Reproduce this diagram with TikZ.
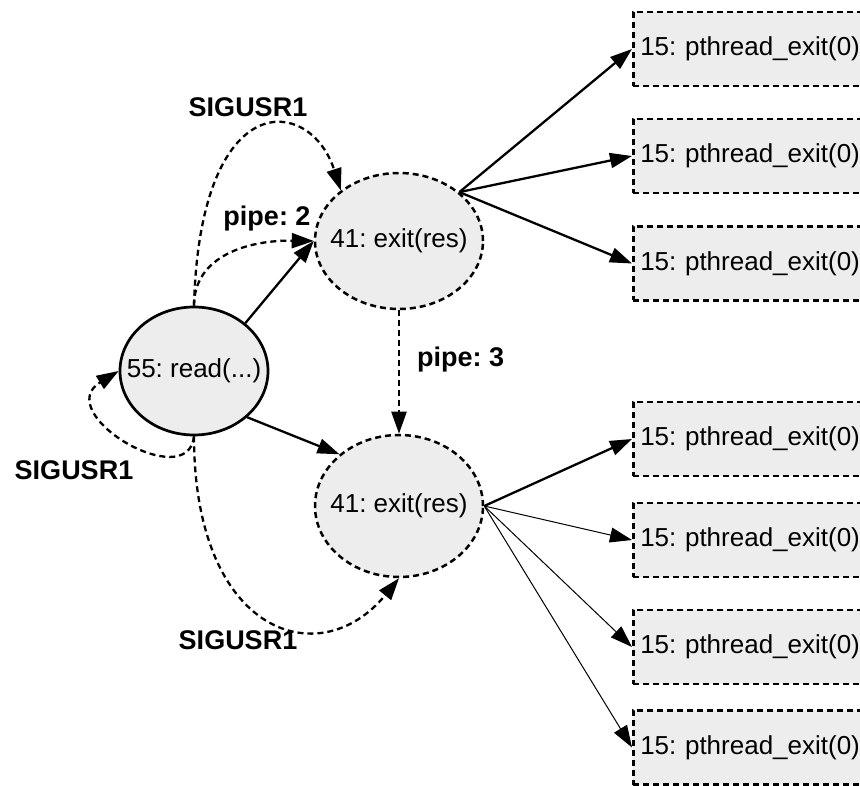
\documentclass[tikz,border=0pt]{standalone}
\usepackage{fontspec}
\setmainfont{Liberation Sans}
\frenchspacing
\usetikzlibrary{shapes.geometric,arrows.meta}
\definecolor{nodefill}{HTML}{EDEDED}
\newcommand{\zw}[1]{\makebox[0pt]{#1}}
\begin{document}
\begin{tikzpicture}[x=1pt,y=1pt,
  basefont/.style={font=\fontsize{26}{30}\selectfont},
  lbl/.style={font=\fontsize{27}{31}\selectfont\bfseries, anchor=base, inner sep=0pt},
  ell/.style={ellipse, draw, fill=nodefill, inner sep=0pt, basefont, line width=2.5pt},
  dsh/.style={dash pattern=on 6pt off 4pt},
  exitbox/.style={rectangle, draw, fill=nodefill, dsh, line width=2.5pt, minimum height=74pt, text width=244pt, inner xsep=7pt, align=left, anchor=west, basefont},
  arr/.style={-{Triangle[length=22pt,width=15pt]}, line width=2.3pt},
  thinarr/.style={-{Triangle[length=22pt,width=15pt]}, line width=1pt},
]
\useasboundingbox (0,0) rectangle (860,785);

% main nodes
\node[ell, line width=2.7pt, minimum width=148pt, minimum height=128pt] (rd) at (194,414) {\zw{55: read(...)}};
\node[ell, dsh, minimum width=168pt, minimum height=136pt] (e1) at (399,544) {\zw{41: exit(res)}};
\node[ell, dsh, minimum width=168pt, minimum height=142pt] (e2) at (399,279) {\zw{41: exit(res)}};

% boxes
\node[exitbox] (b1) at (632,736) {15: pthread\_exit(0)};
\node[exitbox] (b2) at (632,629) {15: pthread\_exit(0)};
\node[exitbox] (b3) at (632,521.5) {15: pthread\_exit(0)};
\node[exitbox] (b4) at (632,346) {15: pthread\_exit(0)};
\node[exitbox] (b5) at (632,245) {15: pthread\_exit(0)};
\node[exitbox] (b6) at (632,138) {15: pthread\_exit(0)};
\node[exitbox] (b7) at (632,37.5) {15: pthread\_exit(0)};

% labels
\node[lbl] (lsig1) at (248,668) {SIGUSR1};
\node[lbl] (lpipe2) at (267,559) {pipe: 2};
\node[lbl, anchor=base west] (lpipe3) at (417,418) {pipe: 3};
\node[lbl] (lsig2) at (74,305) {SIGUSR1};
\node[lbl] (lsig3) at (238,135) {SIGUSR1};

% fan-out from exits
\coordinate (e1r) at (e1.39);
\coordinate (e2r) at (e2.east);
\draw[arr] (e1r) -- (b1.west);
\draw[arr] (e1r) -- (b2.west);
\draw[arr] (e1r) -- (b3.west);
\draw[arr] (e2r) -- (b4.west);
\draw[thinarr] (e2r) -- (b5.west);
\draw[thinarr] (e2r) -- (b6.west);
\draw[thinarr] (e2r) -- (b7.west);

% solid edges from read
\draw[arr] (rd.43) -- (e1.west);
\draw[arr] (rd.-41) -- (e2.139);

% pipe 3
\draw[arr, dsh] (e1.south) -- (e2.north);

% pipe 2
\draw[arr, dsh] (rd.north) .. controls (194,530) and (250,545) .. (e1.west);
% top SIGUSR1
\draw[arr, dsh] (rd.north) .. controls (200,700) and (310,690) .. (e1.139);
% self loop
\draw[arr, dsh] (rd.south) .. controls (188,290) and (50,372) .. (rd.west);
% bottom SIGUSR1
\draw[arr, dsh] (rd.south) .. controls (194,150) and (320,110) .. (e2.south);

\end{tikzpicture}
\end{document}
